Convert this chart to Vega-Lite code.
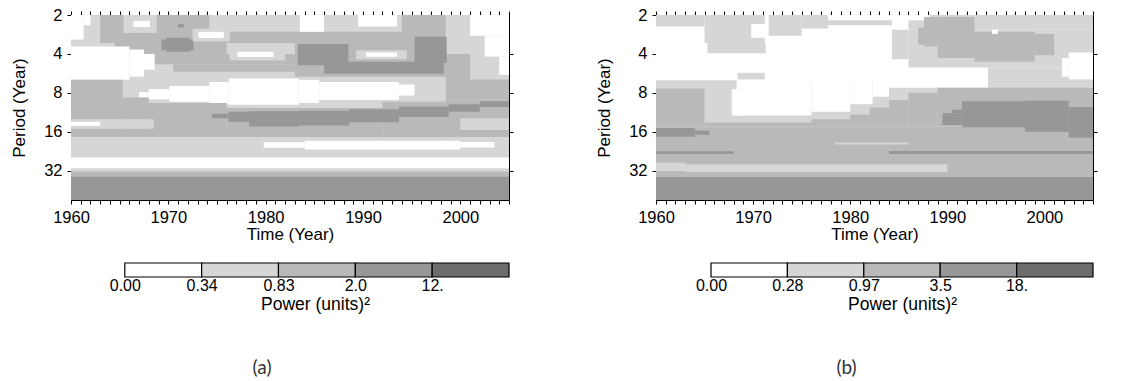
{
"$schema": "https://vega.github.io/schema/vega-lite/v6.json",
"padding": {"left": 10, "top": 7, "right": 5, "bottom": 0},
"config": {"view": {"stroke": null}, "axis": {"labelFont": "Liberation Sans", "titleFont": "Liberation Sans", "labelFontSize": 16.5, "titleFontSize": 17, "titleFontWeight": "normal", "labelColor": "black", "titleColor": "black", "domainColor": "black", "tickColor": "black", "grid": false, "labelFlush": false, "labelOverlap": false, "labelBound": false}},
"datasets": {
"cells": [
{"g":"a","t0":1960,"t1":2005,"p0":2,"p1":54,"v":1},
{"g":"a","t0":1963,"t1":1983.5,"p0":2,"p1":3.3,"v":2},
{"g":"a","t0":1964.5,"t1":1976,"p0":3.3,"p1":4.0,"v":2},
{"g":"a","t0":1968,"t1":1983,"p0":4.0,"p1":4.8,"v":2},
{"g":"a","t0":1970.5,"t1":1983,"p0":4.8,"p1":5.5,"v":2},
{"g":"a","t0":1983,"t1":1998.5,"p0":2.7,"p1":6.0,"v":2},
{"g":"a","t0":1994,"t1":1998.5,"p0":2,"p1":2.7,"v":2},
{"g":"a","t0":1998.5,"t1":2001,"p0":4.0,"p1":9.0,"v":2},
{"g":"a","t0":2001,"t1":2005,"p0":6.3,"p1":9.0,"v":2},
{"g":"a","t0":1974.2,"t1":1983.5,"p0":2,"p1":2.7,"v":1},
{"g":"a","t0":1983.5,"t1":1986,"p0":2,"p1":2.7,"v":0},
{"g":"a","t0":1989.5,"t1":1993.5,"p0":2,"p1":2.45,"v":0},
{"g":"a","t0":2001,"t1":2005,"p0":2,"p1":2.9,"v":0},
{"g":"a","t0":2002.5,"t1":2005,"p0":2.9,"p1":4.2,"v":0},
{"g":"a","t0":2004,"t1":2005,"p0":4.2,"p1":5.8,"v":0},
{"g":"a","t0":1960,"t1":1961.3,"p0":2,"p1":3.1,"v":0},
{"g":"a","t0":1961.3,"t1":1962,"p0":2,"p1":2.4,"v":0},
{"g":"a","t0":1965.4,"t1":1968.8,"p0":2,"p1":2.75,"v":1},
{"g":"a","t0":1966.4,"t1":1968.1,"p0":2.22,"p1":2.48,"v":0},
{"g":"a","t0":1971,"t1":1971.6,"p0":2.35,"p1":2.5,"v":3},
{"g":"a","t0":1969.3,"t1":1972.6,"p0":3.1,"p1":3.75,"v":3},
{"g":"a","t0":1969.8,"t1":1972.2,"p0":3.0,"p1":3.85,"v":3},
{"g":"a","t0":1972.5,"t1":1976.3,"p0":2.55,"p1":3.2,"v":1},
{"g":"a","t0":1973.1,"t1":1975.7,"p0":2.7,"p1":3.02,"v":0},
{"g":"a","t0":1976.3,"t1":1982,"p0":3.6,"p1":4.5,"v":1},
{"g":"a","t0":1977.1,"t1":1980.8,"p0":3.85,"p1":4.22,"v":0},
{"g":"a","t0":1983.3,"t1":1988.5,"p0":3.35,"p1":4.9,"v":3},
{"g":"a","t0":1986,"t1":1998.3,"p0":4.6,"p1":5.7,"v":3},
{"g":"a","t0":1995.3,"t1":1998.6,"p0":2.95,"p1":4.7,"v":3},
{"g":"a","t0":1989.3,"t1":1994.5,"p0":3.75,"p1":4.4,"v":1},
{"g":"a","t0":1990.3,"t1":1993.5,"p0":3.9,"p1":4.2,"v":0},
{"g":"a","t0":1960,"t1":1966,"p0":3.5,"p1":6.35,"v":0},
{"g":"a","t0":1966,"t1":1967.5,"p0":3.7,"p1":6.0,"v":0},
{"g":"a","t0":1967.5,"t1":1968.6,"p0":4.0,"p1":5.3,"v":0},
{"g":"a","t0":1967,"t1":1968,"p0":7.9,"p1":8.7,"v":0},
{"g":"a","t0":1968,"t1":1970.1,"p0":7.5,"p1":9.0,"v":0},
{"g":"a","t0":1970.1,"t1":1974.2,"p0":7.1,"p1":9.4,"v":0},
{"g":"a","t0":1974.2,"t1":1976.2,"p0":6.6,"p1":9.7,"v":0},
{"g":"a","t0":1976.2,"t1":1983.4,"p0":6.2,"p1":9.9,"v":0},
{"g":"a","t0":1983.4,"t1":1985.5,"p0":6.35,"p1":9.6,"v":0},
{"g":"a","t0":1985.5,"t1":1993.7,"p0":6.6,"p1":9.1,"v":0},
{"g":"a","t0":1993.7,"t1":1995.3,"p0":6.9,"p1":8.4,"v":0},
{"g":"a","t0":1960,"t1":1965.3,"p0":6.35,"p1":17.6,"v":2},
{"g":"a","t0":1965.3,"t1":1968,"p0":8.7,"p1":17.6,"v":2},
{"g":"a","t0":1968,"t1":1976,"p0":9.6,"p1":17.6,"v":2},
{"g":"a","t0":1976,"t1":1992,"p0":10.5,"p1":17.6,"v":2},
{"g":"a","t0":1992,"t1":1998.5,"p0":9.4,"p1":17.6,"v":2},
{"g":"a","t0":1998.5,"t1":2005,"p0":9.0,"p1":17.6,"v":2},
{"g":"a","t0":1974.5,"t1":1976.2,"p0":11.6,"p1":12.6,"v":3},
{"g":"a","t0":1976.2,"t1":1978.3,"p0":11.2,"p1":13.4,"v":3},
{"g":"a","t0":1978.3,"t1":1983.4,"p0":11.1,"p1":14.6,"v":3},
{"g":"a","t0":1983.4,"t1":1988.6,"p0":11.0,"p1":14.3,"v":3},
{"g":"a","t0":1988.6,"t1":1993.7,"p0":10.7,"p1":13.5,"v":3},
{"g":"a","t0":1993.7,"t1":1998.8,"p0":10.2,"p1":12.3,"v":3},
{"g":"a","t0":1998.8,"t1":2002,"p0":9.8,"p1":11.2,"v":3},
{"g":"a","t0":2002,"t1":2005,"p0":9.3,"p1":10.3,"v":3},
{"g":"a","t0":1960,"t1":1968.5,"p0":12.8,"p1":15.2,"v":1},
{"g":"a","t0":1960,"t1":1963,"p0":13.4,"p1":14.4,"v":0},
{"g":"a","t0":2000,"t1":2005,"p0":12.6,"p1":15.5,"v":1},
{"g":"a","t0":1979.8,"t1":1984,"p0":19.3,"p1":21.3,"v":0},
{"g":"a","t0":1984,"t1":2000,"p0":18.8,"p1":22,"v":0},
{"g":"a","t0":2000,"t1":2003.5,"p0":19.2,"p1":21.2,"v":0},
{"g":"a","t0":1960,"t1":2005,"p0":25.3,"p1":30.7,"v":0},
{"g":"a","t0":1960,"t1":2005,"p0":32.5,"p1":35.6,"v":2},
{"g":"a","t0":1960,"t1":2005,"p0":35.6,"p1":54,"v":3},
{"g":"b","t0":1960,"t1":2005,"p0":2,"p1":54,"v":0},
{"g":"b","t0":1960,"t1":1965,"p0":2,"p1":2.45,"v":1},
{"g":"b","t0":1965,"t1":1971.2,"p0":2,"p1":3.3,"v":1},
{"g":"b","t0":1965.3,"t1":1971.3,"p0":3.3,"p1":3.95,"v":1},
{"g":"b","t0":1969.8,"t1":1971.6,"p0":2.35,"p1":3.0,"v":0},
{"g":"b","t0":1971.6,"t1":1975,"p0":2,"p1":2.9,"v":1},
{"g":"b","t0":1975,"t1":1977.7,"p0":2,"p1":2.55,"v":1},
{"g":"b","t0":1977.7,"t1":1984.3,"p0":2.2,"p1":2.4,"v":1},
{"g":"b","t0":1986,"t1":1988.2,"p0":2.2,"p1":2.6,"v":1},
{"g":"b","t0":1988.2,"t1":2005,"p0":2,"p1":2.6,"v":1},
{"g":"b","t0":1984.3,"t1":1986,"p0":2.6,"p1":4.4,"v":1},
{"g":"b","t0":1986,"t1":2005,"p0":2.6,"p1":5.1,"v":1},
{"g":"b","t0":1994.2,"t1":2005,"p0":5.1,"p1":7.3,"v":1},
{"g":"b","t0":1987,"t1":1988,"p0":2.5,"p1":3.4,"v":2},
{"g":"b","t0":1987.6,"t1":1989,"p0":2.07,"p1":3.5,"v":2},
{"g":"b","t0":1989,"t1":1992.8,"p0":2.07,"p1":4.3,"v":2},
{"g":"b","t0":1992.8,"t1":1999,"p0":2.7,"p1":4.6,"v":2},
{"g":"b","t0":1999,"t1":2001,"p0":2.8,"p1":4.1,"v":2},
{"g":"b","t0":1994.6,"t1":1995.2,"p0":2.6,"p1":2.8,"v":0},
{"g":"b","t0":2002.5,"t1":2005,"p0":3.9,"p1":6.3,"v":0},
{"g":"b","t0":2001.8,"t1":2002.5,"p0":4.3,"p1":6.0,"v":0},
{"g":"b","t0":1960,"t1":2005,"p0":6.4,"p1":14.5,"v":1},
{"g":"b","t0":1968.4,"t1":1971.2,"p0":5.6,"p1":6.4,"v":1},
{"g":"b","t0":1968.3,"t1":1976,"p0":6.3,"p1":12.0,"v":0},
{"g":"b","t0":1967.8,"t1":1969,"p0":7.5,"p1":12.0,"v":0},
{"g":"b","t0":1976,"t1":1980,"p0":6.3,"p1":11.2,"v":0},
{"g":"b","t0":1980,"t1":1982.3,"p0":6.3,"p1":9.8,"v":0},
{"g":"b","t0":1982.3,"t1":1984,"p0":6.3,"p1":8.6,"v":0},
{"g":"b","t0":1984,"t1":1994.2,"p0":6.3,"p1":7.3,"v":0},
{"g":"b","t0":1960,"t1":2005,"p0":14.5,"p1":35.6,"v":2},
{"g":"b","t0":1960,"t1":1965,"p0":7.4,"p1":14.5,"v":2},
{"g":"b","t0":1965,"t1":1976,"p0":13.6,"p1":14.5,"v":2},
{"g":"b","t0":1976,"t1":1980,"p0":12.8,"p1":14.5,"v":2},
{"g":"b","t0":1980,"t1":1982,"p0":11.8,"p1":14.5,"v":2},
{"g":"b","t0":1982,"t1":1984,"p0":10.4,"p1":14.5,"v":2},
{"g":"b","t0":1984,"t1":1986,"p0":9.1,"p1":14.5,"v":2},
{"g":"b","t0":1986,"t1":1989,"p0":8.0,"p1":14.5,"v":2},
{"g":"b","t0":1989,"t1":2005,"p0":7.3,"p1":14.5,"v":2},
{"g":"b","t0":1990.5,"t1":1991.5,"p0":10.8,"p1":11.5,"v":3},
{"g":"b","t0":1989.5,"t1":1991.5,"p0":11.5,"p1":14.2,"v":3},
{"g":"b","t0":1991.5,"t1":1998,"p0":9.3,"p1":14.8,"v":3},
{"g":"b","t0":1998,"t1":2002.5,"p0":9.2,"p1":16.0,"v":3},
{"g":"b","t0":2002.5,"t1":2005,"p0":10.3,"p1":17.8,"v":3},
{"g":"b","t0":1960,"t1":1964,"p0":15,"p1":17.5,"v":3},
{"g":"b","t0":1964,"t1":1965.5,"p0":15.7,"p1":16.9,"v":3},
{"g":"b","t0":1960,"t1":1968,"p0":22.7,"p1":23.8,"v":3},
{"g":"b","t0":1984,"t1":2005,"p0":22.6,"p1":23.8,"v":3},
{"g":"b","t0":1978.4,"t1":1986,"p0":19.4,"p1":20.1,"v":1},
{"g":"b","t0":1960,"t1":1963,"p0":27.8,"p1":32.2,"v":1},
{"g":"b","t0":1963,"t1":1990,"p0":28.5,"p1":32.8,"v":1},
{"g":"b","t0":1960,"t1":2005,"p0":35.6,"p1":54,"v":3}
],
"bar": [
{"g":"a","k0":0,"k1":1,"v":0},{"g":"a","k0":1,"k1":2,"v":1},{"g":"a","k0":2,"k1":3,"v":2},{"g":"a","k0":3,"k1":4,"v":3},{"g":"a","k0":4,"k1":5,"v":4},
{"g":"b","k0":0,"k1":1,"v":0},{"g":"b","k0":1,"k1":2,"v":1},{"g":"b","k0":2,"k1":3,"v":2},{"g":"b","k0":3,"k1":4,"v":3},{"g":"b","k0":4,"k1":5,"v":4}
]
},
"spacing": 81,
"hconcat": [
{
"title": {"text": "(a)", "orient": "bottom", "offset": 46, "font": "Lato", "fontSize": 19, "fontWeight": "normal", "color": "#333333", "anchor": "middle"},
"spacing": 19,
"vconcat": [
{
"width": 438, "height": 185,
"data": {"name": "cells"},
"transform": [{"filter": "datum.g == 'a'"}],
"layer": [
{"mark": {"type": "rect", "clip": true},
"encoding": {
"x": {"field": "t0", "type": "quantitative", "scale": {"domain": [1960, 2005], "nice": false, "zero": false},
"axis": {"orient": "bottom", "values": [1960,1961,1962,1963,1964,1965,1966,1967,1968,1969,1970,1971,1972,1973,1974,1975,1976,1977,1978,1979,1980,1981,1982,1983,1984,1985,1986,1987,1988,1989,1990,1991,1992,1993,1994,1995,1996,1997,1998,1999,2000,2001,2002,2003,2004,2005], "format": "d", "labelExpr": "datum.value % 10 === 0 ? datum.label : ''", "tickSize": 4, "labelPadding": 5, "title": "Time (Year)", "titlePadding": 1}},
"x2": {"field": "t1"},
"y": {"field": "p0", "type": "quantitative", "scale": {"type": "log", "base": 2, "domain": [2, 54], "reverse": true, "nice": false},
"axis": {"orient": "left", "values": [2,4,8,16,32], "format": "d", "tickSize": 4, "labelPadding": 5, "title": "Period (Year)", "titlePadding": 15}},
"y2": {"field": "p1"},
"color": {"field": "v", "type": "ordinal", "scale": {"domain": [0,1,2,3,4], "range": ["#ffffff","#d6d6d6","#b9b9b9","#979797","#6c6c6c"]}, "legend": null}
}},
{"mark": {"type": "rect", "opacity": 0},
"encoding": {
"x": {"field": "t0", "type": "quantitative", "axis": {"orient": "top", "values": [1960,1961,1962,1963,1964,1965,1966,1967,1968,1969,1970,1971,1972,1973,1974,1975,1976,1977,1978,1979,1980,1981,1982,1983,1984,1985,1986,1987,1988,1989,1990,1991,1992,1993,1994,1995,1996,1997,1998,1999,2000,2001,2002,2003,2004,2005], "labels": false, "tickSize": 4, "title": null}},
"y": {"field": "p0", "type": "quantitative", "axis": {"orient": "right", "values": [4,8,16,32], "labels": false, "tickSize": 4, "title": null}}
}}
],
"resolve": {"axis": {"x": "independent", "y": "independent"}}
},
{
"width": 438, "height": 14,
"data": {"name": "bar"},
"transform": [{"filter": "datum.g == 'a'"}],
"mark": {"type": "rect", "stroke": "black", "strokeWidth": 1.2},
"encoding": {
"x": {"field": "k0", "type": "quantitative", "scale": {"domain": [-0.7, 5], "nice": false, "zero": false},
"axis": {"values": [0,1,2,3,4], "labelExpr": "['0.00','0.34','0.83','2.0','12.'][round(datum.value)]", "domain": false, "ticks": false, "labelPadding": 0, "labelFontSize": 16, "title": "Power (units)²", "titleFontSize": 17.5, "titleX": 244, "titlePadding": 2}},
"x2": {"field": "k1"},
"color": {"field": "v", "type": "ordinal", "scale": {"domain": [0,1,2,3,4], "range": ["#ffffff","#d6d6d6","#b9b9b9","#979797","#6c6c6c"]}, "legend": null}
}
}
]
},
{
"title": {"text": "(b)", "orient": "bottom", "offset": 46, "font": "Lato", "fontSize": 19, "fontWeight": "normal", "color": "#333333", "anchor": "middle"},
"spacing": 19,
"vconcat": [
{
"width": 437, "height": 185,
"data": {"name": "cells"},
"transform": [{"filter": "datum.g == 'b'"}],
"layer": [
{"mark": {"type": "rect", "clip": true},
"encoding": {
"x": {"field": "t0", "type": "quantitative", "scale": {"domain": [1960, 2005], "nice": false, "zero": false},
"axis": {"orient": "bottom", "values": [1960,1961,1962,1963,1964,1965,1966,1967,1968,1969,1970,1971,1972,1973,1974,1975,1976,1977,1978,1979,1980,1981,1982,1983,1984,1985,1986,1987,1988,1989,1990,1991,1992,1993,1994,1995,1996,1997,1998,1999,2000,2001,2002,2003,2004,2005], "format": "d", "labelExpr": "datum.value % 10 === 0 ? datum.label : ''", "tickSize": 4, "labelPadding": 5, "title": "Time (Year)", "titlePadding": 1}},
"x2": {"field": "t1"},
"y": {"field": "p0", "type": "quantitative", "scale": {"type": "log", "base": 2, "domain": [2, 54], "reverse": true, "nice": false},
"axis": {"orient": "left", "values": [2,4,8,16,32], "format": "d", "tickSize": 4, "labelPadding": 5, "title": "Period (Year)", "titlePadding": 15}},
"y2": {"field": "p1"},
"color": {"field": "v", "type": "ordinal", "scale": {"domain": [0,1,2,3,4], "range": ["#ffffff","#d6d6d6","#b9b9b9","#979797","#6c6c6c"]}, "legend": null}
}},
{"mark": {"type": "rect", "opacity": 0},
"encoding": {
"x": {"field": "t0", "type": "quantitative", "axis": {"orient": "top", "values": [1960,1961,1962,1963,1964,1965,1966,1967,1968,1969,1970,1971,1972,1973,1974,1975,1976,1977,1978,1979,1980,1981,1982,1983,1984,1985,1986,1987,1988,1989,1990,1991,1992,1993,1994,1995,1996,1997,1998,1999,2000,2001,2002,2003,2004,2005], "labels": false, "tickSize": 4, "title": null}},
"y": {"field": "p0", "type": "quantitative", "axis": {"orient": "right", "values": [4,8,16,32], "labels": false, "tickSize": 4, "title": null}}
}}
],
"resolve": {"axis": {"x": "independent", "y": "independent"}}
},
{
"width": 437, "height": 14,
"data": {"name": "bar"},
"transform": [{"filter": "datum.g == 'b'"}],
"mark": {"type": "rect", "stroke": "black", "strokeWidth": 1.2},
"encoding": {
"x": {"field": "k0", "type": "quantitative", "scale": {"domain": [-0.72, 5], "nice": false, "zero": false},
"axis": {"values": [0,1,2,3,4], "labelExpr": "['0.00','0.28','0.97','3.5','18.'][round(datum.value)]", "domain": false, "ticks": false, "labelPadding": 0, "labelFontSize": 16, "title": "Power (units)²", "titleFontSize": 17.5, "titleX": 246, "titlePadding": 2}},
"x2": {"field": "k1"},
"color": {"field": "v", "type": "ordinal", "scale": {"domain": [0,1,2,3,4], "range": ["#ffffff","#d6d6d6","#b9b9b9","#979797","#6c6c6c"]}, "legend": null}
}
}
]
}
]
}
